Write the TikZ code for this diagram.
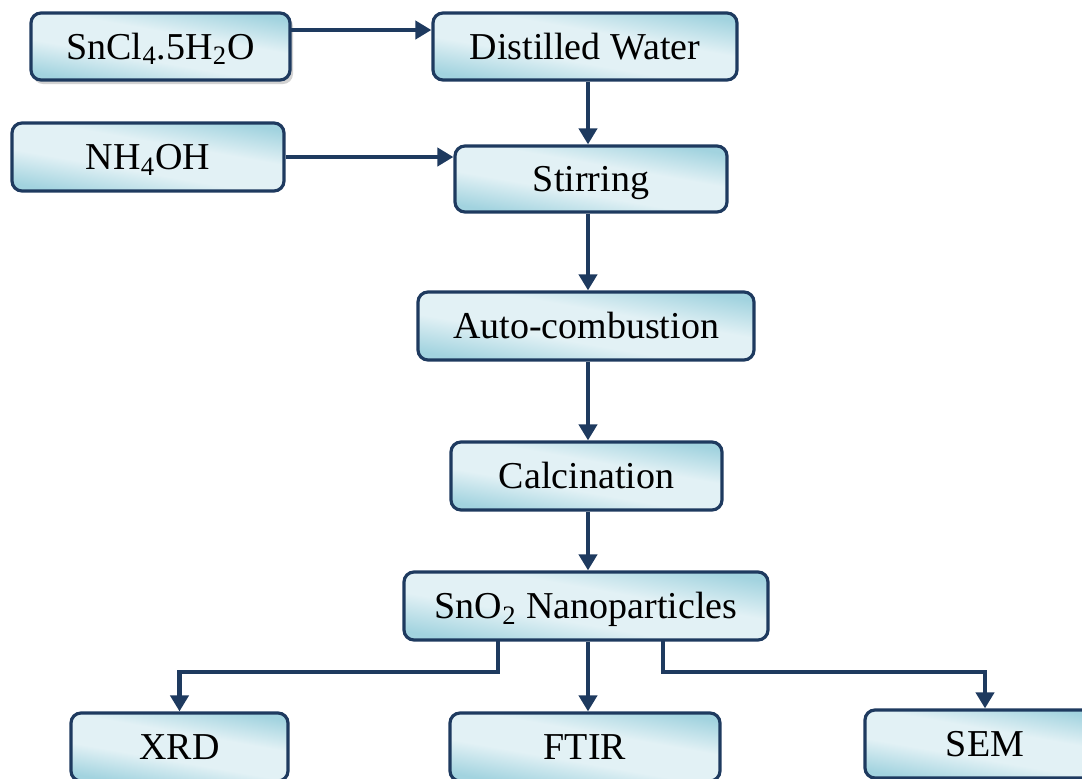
\documentclass[tikz,border=0pt]{standalone}
\usepackage{fontspec}
\setmainfont{Liberation Serif}
\usetikzlibrary{arrows.meta}
\definecolor{edgeblue}{HTML}{1E3A5F}
\definecolor{shadeA}{HTML}{A2D3DF}
\definecolor{shadeB}{HTML}{E2F1F5}
\pgfdeclarehorizontalshading{boxshade}{100bp}{color(0bp)=(shadeA); color(25bp)=(shadeA); color(42bp)=(shadeB); color(58bp)=(shadeB); color(75bp)=(shadeA); color(100bp)=(shadeA)}
\tikzset{
  boxnode/.style={draw=edgeblue, line width=1.6pt, rounded corners=5pt,
    shading=boxshade, shading angle=80,
    font=\fontsize{19}{21}\selectfont, inner sep=0pt, text height=14.5pt, text depth=2pt},
  arr/.style={draw=edgeblue, line width=2.1pt, -{Triangle[width=9pt,length=8pt]}},
}
\begin{document}
\begin{tikzpicture}[x=0.5pt,y=-0.5pt]
\useasboundingbox (0,0) rectangle (1082,778);
\clip (0,0) rectangle (1082,778);
% shadow of first box
\fill[gray!35, rounded corners=5pt] (33,16) rectangle (293,84);
\node[boxnode, minimum width=129.5pt, minimum height=33.5pt] (sn) at (160.5,46.5) {SnCl\textsubscript{4}.5H\textsubscript{2}O};
\node[boxnode, minimum width=152pt, minimum height=33.5pt] (dw) at (585,46.5) {Distilled Water};
\node[boxnode, minimum width=136pt, minimum height=34pt] (nh) at (148,157) {NH\textsubscript{4}OH};
\node[boxnode, minimum width=136pt, minimum height=33pt] (st) at (591,179) {Stirring};
\node[boxnode, minimum width=168pt, minimum height=34pt] (ac) at (586,326) {Auto-combustion};
\node[boxnode, minimum width=135.5pt, minimum height=34pt] (ca) at (586.5,476) {Calcination};
\node[boxnode, minimum width=182pt, minimum height=34pt] (sno) at (586,606) {SnO\textsubscript{2} Nanoparticles};
\node[boxnode, minimum width=108.5pt, minimum height=34pt] (xrd) at (179.5,747) {XRD};
\node[boxnode, minimum width=135pt, minimum height=34pt] (ftir) at (585,747) {FTIR};
\node[boxnode, minimum width=120pt, minimum height=34pt] (sem) at (985,744) {SEM};
\coordinate (snout) at (290,30);
\coordinate (xl) at (498,640);
\coordinate (xr) at (663,640);
\draw[arr] (snout) -- (dw.west |- snout);
\draw[arr] (nh.east) -- (st.west |- nh.east);
\draw[arr] (dw.south -| 588,0) -- (st.north -| 588,0);
\draw[arr] (st.south -| 588,0) -- (ac.north -| 588,0);
\draw[arr] (ac.south -| 588,0) -- (ca.north -| 588,0);
\draw[arr] (ca.south -| 588,0) -- (sno.north -| 588,0);
\draw[arr] (sno.south -| 588,0) -- (ftir.north -| 588,0);
\draw[arr] (xl) -- ++(0,32) -| (xrd.north);
\draw[arr] (xr) -- ++(0,32) -| (sem.north);
\end{tikzpicture}
\end{document}
